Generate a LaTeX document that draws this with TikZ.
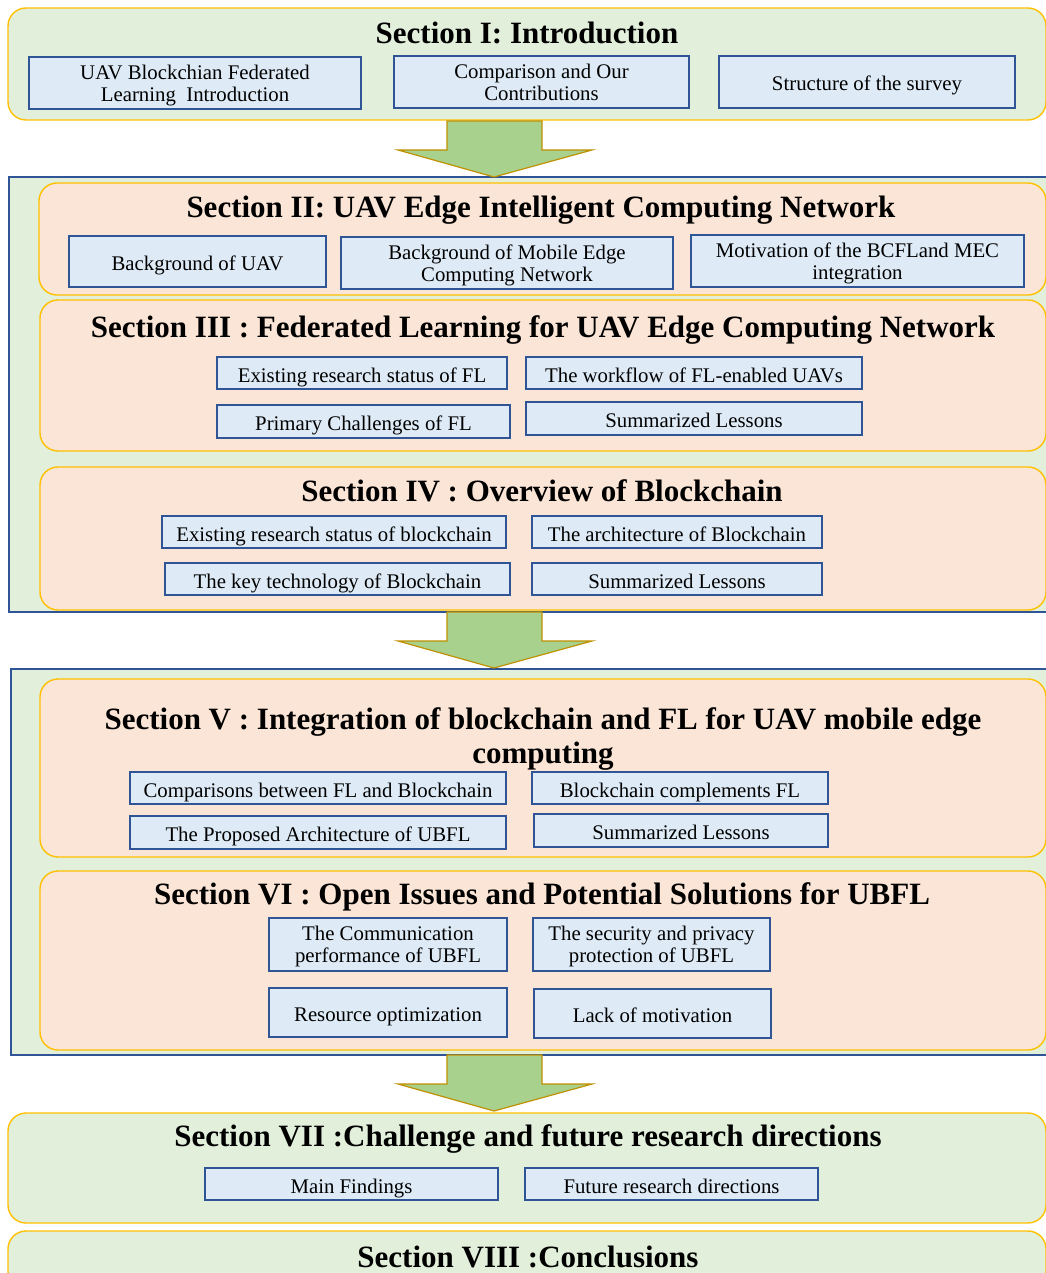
\documentclass[tikz,border=0pt]{standalone}
\usepackage{fontspec}
\setmainfont{Liberation Serif}

\definecolor{secgreen}{HTML}{E2EFDA}
\definecolor{secpeach}{HTML}{FBE5D6}
\definecolor{secgold}{HTML}{FFC000}
\definecolor{itemblue}{HTML}{DEEBF7}
\definecolor{itemedge}{HTML}{2F5597}
\definecolor{arrowgreen}{HTML}{A9D18E}
\definecolor{arrowedge}{HTML}{BF9000}

\newcommand{\itemstrut}{\rule[-6pt]{0pt}{30pt}}

\begin{document}
\begin{tikzpicture}[x = 1pt, y = -1pt, every node/.style = {inner sep = 0pt,
	outer sep = 0pt}, secbox/.style = {rectangle, rounded corners = 18pt,
	draw = secgold, line width = 1.4pt}, groupbox/.style = {rectangle,
	draw = itemedge, line width = 1.2pt, fill = secgreen}, itembox/.style = {rectangle,
	draw = itemedge, line width = 1.3pt, fill = itemblue, align = center,
	font = \fontsize{20.8}{22}\selectfont, execute at begin node = \itemstrut,
	execute at end node = \itemstrut}, oneline/.style = {}, twoline/.style = {text depth = -2pt},
	sectitle/.style = {align = center, font = \fontsize{31}{34}\selectfont\bfseries},
	bigarrow/.style = {fill = arrowgreen, draw = arrowedge, line width = 1.2pt}]

		\useasboundingbox (0, 0) rectangle (1045, 1273);

		% outer frames
		\node (G2) at (534.5,  394.5) [groupbox, minimum width = 1051pt, minimum height = 435pt] {};
		\node (G3) at (535.5,  862  ) [groupbox, minimum width = 1049pt, minimum height = 386pt] {};

		% section frames
		\foreach \sec/\cx/\cy/\w/\h/\col in {S1/527/64/1038/112/secgreen,
			S2/542.5/239/1007/112/secpeach, S3/543/375.5/1006/151/secpeach,
			S4/543/538.5/1006/143/secpeach, S5/543/768/1006/178/secpeach,
			S6/543/960.5/1006/179/secpeach, S7/527/1168/1038/110/secgreen,
			S8/527/1260.5/1038/59/secgreen}
			\node (\sec) at (\cx, \cy) [secbox, fill = \col, minimum width = \w pt,
				minimum height = \h pt] {};

		% section titles
		\node (T1) at (527,  33) [sectitle] {Section I: Introduction};
		\node (T2) at (541, 210) [sectitle] {Section II: UAV Edge Intelligent Computing Network};
		\node (T3) at (543, 330) [sectitle] {Section III : Federated Learning for UAV Edge Computing Network};
		\node (T4) at (542, 491) [sectitle] {Section IV : Overview of Blockchain};
		\node (T5) at (543, 739) [sectitle] {Section V : Integration of blockchain and FL for UAV mobile edge\\computing};
		\node (T6) at (542, 897) [sectitle] {Section VI : Open Issues and Potential Solutions for UBFL};
		\node (T7) at (528,1139) [sectitle] {Section VII :Challenge and future research directions};
		\node (T8) at (528,1257) [sectitle] {Section VIII :Conclusions};

		% topics of each section
		\foreach \item/\cx/\cy/\w/\h/\lines/\txt in {
			I1a/195/83/332/52/twoline/{UAV Blockchian Federated\\Learning\ \ Introduction},
			I1b/541.5/82/295/52/twoline/{Comparison and Our\\Contributions},
			I1c/867/82/296/52/oneline/{Structure of the survey},
			I2a/197.5/261.5/257/51/oneline/{Background of UAV},
			I2b/507/263/332/52/twoline/{Background of Mobile Edge\\Computing Network},
			I2c/857.5/261/333/52/twoline/{Motivation of the BCFLand MEC\\integration},
			I3a/362/373/290/32/oneline/{Existing research status of FL},
			I3b/694/373/336/32/oneline/{The workflow of FL-enabled UAVs},
			I3c/363.5/421.5/293/33/oneline/{Primary Challenges of FL},
			I3d/694/418.5/336/33/oneline/{Summarized Lessons},
			I4a/334/532/344/32/oneline/{Existing research status of blockchain},
			I4b/677/532/290/32/oneline/{The architecture of Blockchain},
			I4c/337.5/579/345/32/oneline/{The key technology of Blockchain},
			I4d/677/579/290/32/oneline/{Summarized Lessons},
			I5a/318/788/376/32/oneline/{Comparisons between FL and Blockchain},
			I5b/680/788/296/32/oneline/{Blockchain complements FL},
			I5c/318/832.5/376/33/oneline/{The Proposed Architecture of UBFL},
			I5d/681/830.5/294/33/oneline/{Summarized Lessons},
			I6a/388/944.5/238/53/twoline/{The Communication\\performance of UBFL},
			I6b/651.5/944.5/237/53/twoline/{The security and privacy\\protection of UBFL},
			I6c/388/1012.5/238/49/oneline/{Resource optimization},
			I6d/652.5/1013.5/237/49/oneline/{Lack of motivation},
			I7a/351.5/1184/293/32/oneline/{Main Findings},
			I7b/671.5/1184/293/32/oneline/{Future research directions}}
			\node (\item) at (\cx, \cy) [itembox, \lines, minimum width = \w pt,
				minimum height = \h pt] {\txt};

		% block arrows between the parts
		\coordinate (A1) at (494,  177);
		\coordinate (A2) at (494,  668);
		\coordinate (A3) at (494, 1111);
		\foreach \tip in {A1, A2, A3}
			\draw [bigarrow] (\tip) -- ++(-96, -27) -- ++(49, 0) -- ++(0, -29)
				-- ++(95, 0) -- ++(0, 29) -- ++(50, 0) -- cycle;

	\end{tikzpicture}
\end{document}
